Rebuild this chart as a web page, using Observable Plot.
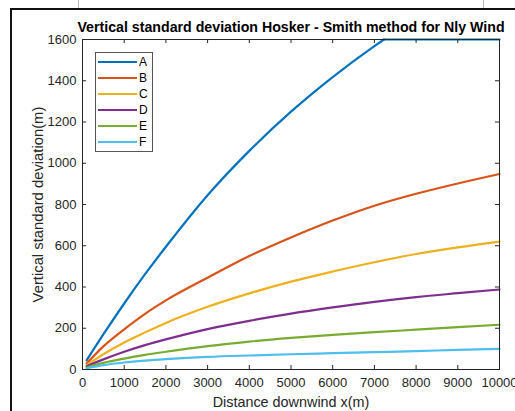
<!DOCTYPE html>
<html>
<head>
<meta charset="utf-8">
<script src="https://cdn.jsdelivr.net/npm/d3@7"></script>
<script src="https://cdn.jsdelivr.net/npm/@observablehq/plot@0.6"></script>
<style>
  html, body { margin: 0; padding: 0; background: #fff; }
  #wrap { position: relative; width: 515px; height: 411px; overflow: hidden; font-family: "Liberation Sans", Arial, sans-serif; }
  #frame { position: absolute; left: 10px; top: 8px; width: 520px; height: 420px; border-left: 2px solid #111; border-top: 2px solid #111; pointer-events: none; }
  .gl { position: absolute; top: 0; width: 1px; height: 8px; background: #bbb; }
  #legend { position: absolute; left: 95px; top: 52px; }
</style>
</head>
<body>
<div id="wrap">
  <div id="chart"></div>
  <div id="legend"></div>
  <div id="frame"></div>
  <div class="gl" style="left:78px"></div>
  <div class="gl" style="left:483px"></div>
</div>
<script>
const titleText = "Vertical standard deviation Hosker - Smith method for Nly Wind";
const xLabel = "Distance downwind x(m)";
const yLabel = "Vertical standard deviation(m)";
const xTicks = [0, 1000, 2000, 3000, 4000, 5000, 6000, 7000, 8000, 9000, 10000];
const yTicks = [0, 200, 400, 600, 800, 1000, 1200, 1400, 1600];
const seriesNames = ["A", "B", "C", "D", "E", "F"];
const seriesColors = ["#0072BD", "#D95319", "#EDB120", "#7E2F8E", "#77AC30", "#4DBEEE"];

// Class A rises until it hits the 1600 m cap, then stays flat
const xA = [100, 500, 1000, 1500, 2000, 3000, 4000, 5000, 6000, 7000, 7230];
const sigmaA = [45, 170, 320, 462, 595, 845, 1060, 1250, 1418, 1568, 1600];
const xAcap = [7230, 8000, 9000, 10000];
const sigmaAcap = [1600, 1600, 1600, 1600];
const xOthers = [100, 500, 1000, 1500, 2000, 3000, 4000, 5000, 6000, 7000, 8000, 9000, 10000];
const sigmaB = [29, 112, 195, 270, 335, 445, 550, 640, 722, 794, 852, 902, 948];
const sigmaC = [21, 74, 131, 180, 226, 304, 369, 426, 475, 520, 560, 592, 620];
const sigmaD = [16, 49, 86, 118, 146, 196, 236, 271, 301, 328, 351, 370, 388];
const sigmaE = [10, 32, 53, 71, 86, 113, 135, 153, 168, 181, 193, 205, 217];
const sigmaF = [6, 21, 34, 43, 50, 61, 68, 74, 79, 84, 89, 95, 100];

const table = [];
xA.forEach((x, i) => table.push({series: "A", seg: "A1", x, y: sigmaA[i]}));
xAcap.forEach((x, i) => table.push({series: "A", seg: "A2", x, y: sigmaAcap[i]}));
[["B", sigmaB], ["C", sigmaC], ["D", sigmaD], ["E", sigmaE], ["F", sigmaF]].forEach(([s, arr]) => {
  xOthers.forEach((x, i) => table.push({series: s, seg: s, x, y: arr[i]}));
});

const fmt = d3.format("d");
const tickX = 10000 * 4 / 417;
const tickY = 1600 * 4 / 330;

const chart = Plot.plot({
  width: 515,
  height: 411,
  marginLeft: 82,
  marginRight: 16,
  marginTop: 39,
  marginBottom: 42,
  style: {fontFamily: "'Liberation Sans', Arial, sans-serif", fontSize: "13px", color: "#262626", background: "transparent"},
  x: {domain: [0, 10000]},
  y: {domain: [0, 1600]},
  color: {domain: seriesNames, range: seriesColors},
  marks: [
    Plot.axisX({ticks: xTicks, tickSize: 0, tickPadding: 8, tickFormat: fmt, label: null, fill: "#262626", fontSize: 13}),
    Plot.axisY({ticks: yTicks, tickSize: 0, tickPadding: 6, tickFormat: fmt, label: null, fill: "#262626", fontSize: 13}),
    Plot.line(table, {x: "x", y: "y", z: "seg", stroke: "series", curve: "monotone-x", strokeWidth: 2.2}),
    Plot.ruleX(xTicks, {x: d => d, y1: 0, y2: tickY, stroke: "#262626"}),
    Plot.ruleX(xTicks, {x: d => d, y1: 1600 - tickY, y2: 1600, stroke: "#262626"}),
    Plot.ruleY(yTicks, {y: d => d, x1: 0, x2: tickX, stroke: "#262626"}),
    Plot.ruleY(yTicks, {y: d => d, x1: 10000 - tickX, x2: 10000, stroke: "#262626"}),
    Plot.frame({stroke: "#262626"}),
    Plot.text([titleText], {frameAnchor: "top", lineAnchor: "middle", dy: -12, fontWeight: "bold", fontSize: 14.2, fill: "#000"}),
    Plot.text([xLabel], {frameAnchor: "bottom", lineAnchor: "middle", dy: 33, fontSize: 14.4, fill: "#262626"}),
    Plot.text([yLabel], {frameAnchor: "left", textAnchor: "middle", lineAnchor: "middle", dx: -44, rotate: -90, fontSize: 14.8, fill: "#262626"})
  ]
});
document.getElementById("chart").appendChild(chart);

// legend
const lw = 57, lh = 99;
const leg = d3.select("#legend").append("svg").attr("width", lw + 2).attr("height", lh + 2)
  .style("font-family", "'Liberation Sans', Arial, sans-serif");
leg.append("rect").attr("x", 0.5).attr("y", 0.5).attr("width", lw).attr("height", lh)
  .attr("fill", "#fff").attr("stroke", "#555").attr("stroke-width", 1);
seriesNames.forEach((name, i) => {
  const cy = 10 + i * 16;
  leg.append("line").attr("x1", 3).attr("x2", 42).attr("y1", cy).attr("y2", cy)
    .attr("stroke", seriesColors[i]).attr("stroke-width", 2.2);
  leg.append("text").attr("x", 44).attr("y", cy).attr("dy", "0.36em")
    .attr("font-size", 12).attr("fill", "#000").text(name);
});
</script>
</body>
</html>
